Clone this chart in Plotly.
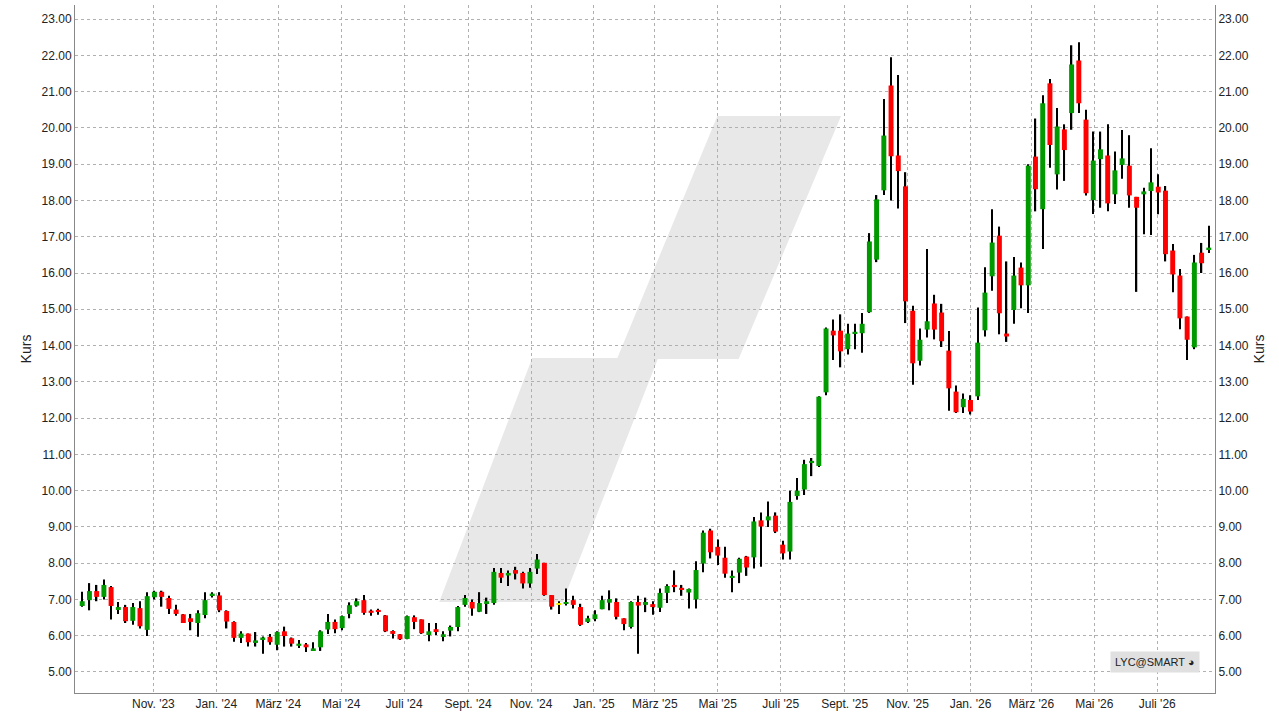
import plotly.graph_objects as go
import pandas as pd

start_date = "2023-08-24"
opens = [6.82,6.98,7.23,7.07,7.34,6.71,6.79,6.41,6.76,6.16,7.06,7.21,7.04,6.72,6.59,6.48,6.35,6.57,7.11,7.11,
 6.68,6.38,5.94,6.06,5.80,5.90,5.97,5.75,6.12,5.93,5.72,5.76,5.60,5.68,6.17,6.38,6.21,6.60,6.83,6.98,
 6.69,6.71,6.56,6.13,6.04,5.91,6.51,6.45,6.02,6.18,5.99,6.14,6.24,6.85,6.93,6.66,6.90,6.90,7.73,7.66,
 7.81,7.73,7.44,7.85,8.01,7.12,6.85,6.88,6.98,6.79,6.38,6.46,6.73,6.91,6.93,6.48,6.24,6.93,6.85,6.87,
 6.77,7.18,7.40,7.32,7.19,7.00,7.99,8.90,8.45,8.15,7.59,7.74,8.18,8.16,9.18,9.18,9.31,8.51,8.32,9.85,
 10.03,10.76,10.68,12.71,14.41,14.41,13.90,14.33,14.34,14.92,16.37,18.28,21.17,19.24,18.39,14.96,13.58,14.44,15.16,14.91,
 13.86,12.73,12.30,12.50,12.60,14.42,15.91,17.03,14.33,14.98,16.15,15.66,19.21,17.76,21.23,18.72,19.96,20.41,21.86,20.23,
 18.01,19.14,19.24,18.17,18.98,18.96,18.10,18.17,18.26,18.38,18.27,16.62,15.93,14.80,13.95,16.56,16.65]
closes = [6.95,7.23,7.07,7.40,6.82,6.79,6.40,6.79,6.26,7.09,7.21,7.07,6.74,6.60,6.35,6.38,6.62,6.98,7.16,6.70,
 6.39,5.94,6.06,5.82,5.87,5.95,5.82,6.10,5.99,5.78,5.78,5.68,5.65,6.12,6.38,6.18,6.54,6.84,6.95,6.63,
 6.63,6.66,6.12,6.05,5.90,6.54,6.38,6.07,6.12,6.10,6.04,6.24,6.79,7.04,6.75,6.90,6.95,7.76,7.60,7.73,
 7.71,7.44,7.76,8.10,7.12,6.80,6.85,6.93,6.85,6.30,6.48,6.59,6.98,7.01,6.52,6.32,6.93,6.83,6.93,6.79,
 7.18,7.37,7.34,7.27,7.29,7.81,8.84,8.30,8.21,7.71,7.65,8.12,7.88,9.15,9.01,9.29,8.87,8.27,9.69,10.00,
 10.73,10.82,12.59,14.47,14.28,13.84,14.33,14.38,14.60,16.87,18.03,19.79,19.22,18.81,15.22,13.51,14.16,14.67,14.44,14.12,
 12.82,12.16,12.53,12.18,14.08,15.46,16.84,14.89,14.25,15.93,15.66,18.96,18.31,20.68,19.53,20.04,19.39,21.75,20.68,18.20,
 19.10,19.41,17.92,18.83,19.16,18.14,17.80,18.25,18.50,18.22,16.52,15.96,14.75,14.16,16.29,16.27,16.70]
highs = [7.21,7.45,7.40,7.55,7.37,6.93,6.85,6.90,6.95,7.20,7.24,7.24,7.10,6.85,6.60,6.60,6.70,7.20,7.20,7.20,
 6.70,6.40,6.12,6.06,6.10,5.98,6.05,6.12,6.25,5.95,5.88,5.80,5.82,6.15,6.60,6.45,6.56,6.92,7.03,7.12,
 6.72,6.74,6.57,6.15,6.05,6.56,6.56,6.45,6.35,6.35,6.12,6.28,6.82,7.12,7.00,7.20,7.05,7.87,7.87,7.80,
 7.90,7.76,7.87,8.25,8.01,7.12,6.95,7.30,7.10,6.88,6.55,6.70,7.10,7.25,7.03,6.48,6.95,7.10,7.05,6.95,
 7.30,7.42,7.80,7.40,7.30,8.05,8.90,8.95,8.65,8.45,7.80,8.15,8.20,9.27,9.40,9.70,9.40,8.62,10.00,10.35,
 10.85,10.90,12.60,14.50,14.72,14.86,14.60,14.60,14.90,17.10,18.15,20.80,21.95,21.46,18.78,15.10,14.47,16.66,15.40,15.15,
 14.40,12.90,12.68,12.63,15.05,16.16,17.76,17.28,16.32,16.44,16.29,19.00,20.26,20.90,21.35,20.55,20.10,22.28,22.36,20.50,
 19.90,19.90,20.10,19.35,19.94,19.80,18.10,18.35,19.44,18.72,18.40,16.80,16.11,14.80,16.50,16.83,17.30]
lows = [6.80,6.70,6.95,7.00,6.45,6.60,6.35,6.30,6.20,5.99,7.00,6.80,6.60,6.55,6.35,6.15,5.97,6.48,7.05,6.65,
 6.20,5.83,5.80,5.70,5.70,5.50,5.75,5.60,5.70,5.70,5.66,5.55,5.58,5.58,6.05,6.07,6.15,6.48,6.80,6.58,
 6.55,6.58,6.10,5.92,5.88,5.90,6.18,6.05,5.85,6.02,5.85,5.98,6.12,6.80,6.55,6.65,6.60,6.85,7.45,7.37,
 7.55,7.30,7.32,7.70,7.10,6.72,6.60,6.83,6.75,6.27,6.35,6.40,6.73,6.70,6.45,6.15,6.20,5.50,6.65,6.58,
 6.65,6.90,7.20,7.10,6.75,6.75,7.75,8.13,7.95,7.60,7.20,7.45,7.65,7.85,7.90,9.00,8.83,8.10,8.10,9.75,
 9.88,10.40,10.65,12.63,13.60,13.40,13.75,13.90,13.80,14.90,16.30,18.15,18.00,17.78,14.62,12.92,13.45,14.22,14.17,13.96,
 12.20,12.14,12.14,12.10,12.50,14.25,15.51,14.31,14.10,14.60,15.03,14.90,17.70,16.66,18.90,18.30,18.54,19.95,20.41,18.14,
 17.63,17.80,17.70,17.90,18.60,17.80,15.48,17.07,17.05,17.62,16.32,15.47,14.45,13.60,13.90,16.00,16.55]

tick_vals = ["2023-11-01","2024-01-01","2024-03-01","2024-05-01","2024-07-01","2024-09-01","2024-11-01",
             "2025-01-01","2025-03-01","2025-05-01","2025-07-01","2025-09-01","2025-11-01",
             "2026-01-01","2026-03-01","2026-05-01","2026-07-01"]
tick_text = ["Nov. '23","Jan. '24","März '24","Mai '24","Juli '24","Sept. '24","Nov. '24",
             "Jan. '25","März '25","Mai '25","Juli '25","Sept. '25","Nov. '25",
             "Jan. '26","März '26","Mai '26","Juli '26"]
y_ticks = [5,6,7,8,9,10,11,12,13,14,15,16,17,18,19,20,21,22,23]

dates = pd.date_range(start_date, periods=len(opens), freq="7D")
GREEN, RED, YEL = "#009a00", "#ff0000", "#e8e800"
colors = [GREEN if c > o else (RED if c < o else YEL) for o, c in zip(opens, closes)]
day = 86400000
fig = go.Figure()
fig.add_trace(go.Bar(x=dates, base=lows, y=[h - l for h, l in zip(highs, lows)],
                     width=1.3 * day, marker=dict(color="black", line_width=0), hoverinfo="skip"))
fig.add_trace(go.Bar(x=dates, base=[min(o, c) for o, c in zip(opens, closes)],
                     y=[max(abs(c - o), 0.05) for o, c in zip(opens, closes)],
                     width=4.8 * day, marker=dict(color=colors, line_width=0)))
fig.add_trace(go.Scatter(x=[dates[0]], y=[closes[0]], yaxis="y2", mode="markers",
                         marker=dict(opacity=0), showlegend=False, hoverinfo="skip"))

def px(x, y):
    return ((x - 75) / 1140, (693 - y) / 688)
pts = [(445,598),(535,362),(620,362),(720,120),(835,120),(736,355),(655,355),(560,598)]
path = "M " + " L ".join("%.4f,%.4f" % px(*p) for p in pts) + " Z"
grid = dict(showgrid=True, gridcolor="#b0b0b0", griddash="dot", gridwidth=1)
fig.update_layout(
    width=1279, height=719, margin=dict(l=75, r=64, t=5, b=26, autoexpand=False),
    plot_bgcolor="white", paper_bgcolor="white", showlegend=False, barmode="overlay",
    font=dict(family="Liberation Sans, Arial", size=12, color="#222"),
    shapes=[dict(type="path", path=path, xref="paper", yref="paper", fillcolor="#e8e8e8",
                 line=dict(color="#e8e8e8", width=8), layer="below")],
    xaxis=dict(range=["2023-08-17", "2026-08-26"], tickvals=tick_vals, ticktext=tick_text, automargin=False,
               showline=True, linecolor="#888", ticks="", **grid),
    yaxis=dict(range=[4.42, 23.39], tickvals=y_ticks, tickformat=".2f", title=dict(text="Kurs", standoff=6),
               automargin=False, showline=True, linecolor="#888", ticks="", zeroline=False, **grid),
    yaxis2=dict(range=[4.42, 23.39], overlaying="y", side="right", tickvals=y_ticks, tickformat=".2f", automargin=False,
                title=dict(text="Kurs", standoff=6), showline=True, linecolor="#888", showgrid=False, zeroline=False),
    annotations=[dict(text="LYC@SMART \u25d5", xref="paper", yref="paper", x=(1155 - 75) / 1140, y=(693 - 662) / 688,
                      xanchor="center", yanchor="middle",
                      showarrow=False, bgcolor="#e0e0e0", font=dict(size=11, color="#222"), borderpad=4)],
)
fig.write_html("out.html", config={"displayModeBar": False},
               post_script="document.body.style.margin='0';document.body.style.overflow='hidden';")
